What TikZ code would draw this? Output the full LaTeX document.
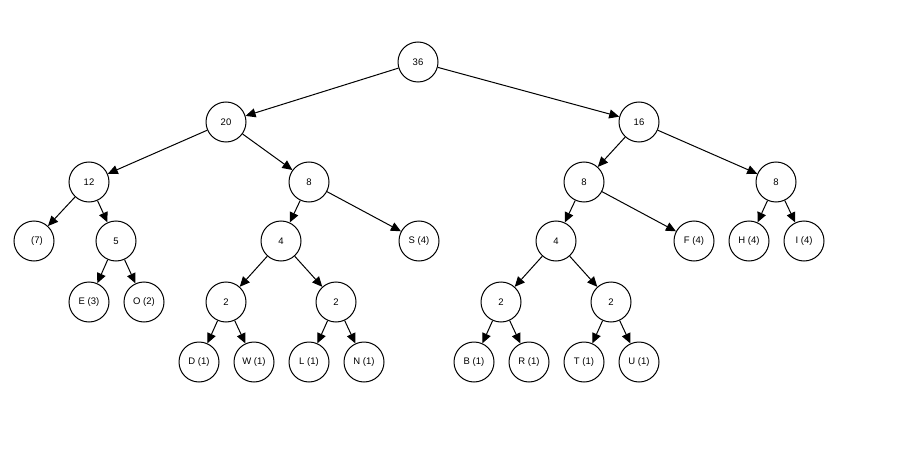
\documentclass[tikz,border=0pt]{standalone}
\usepackage{fontspec}
\setmainfont{Liberation Sans}
\usetikzlibrary{arrows.meta}
\begin{document}
\begin{tikzpicture}[x=1pt,y=-1pt,
  nd/.style={circle,draw,line width=1pt,minimum size=40pt,inner sep=0pt,font=\fontsize{9.5}{10}\selectfont},
  ed/.style={line width=1pt,-{Triangle[length=10pt,width=9pt]}}]
\useasboundingbox (0,0) rectangle (901,449);
\node[nd] (r) at (418,62) {36};
\node[nd] (a) at (226,122) {20};
\node[nd] (b) at (639,122) {16};
\node[nd] (a1) at (89,182) {12};
\node[nd] (a2) at (309,182) {8};
\node[nd] (b1) at (584,182) {8};
\node[nd] (b2) at (776,182) {8};
\node[nd] (n7) at (34,241) {\hspace{6pt}(7)};
\node[nd] (a12) at (116,241) {5};
\node[nd] (a21) at (281,241) {4};
\node[nd] (s) at (419,241) {S (4)};
\node[nd] (b11) at (556,241) {4};
\node[nd] (f) at (694,241) {F (4)};
\node[nd] (h) at (749,241) {H (4)};
\node[nd] (i) at (804,241) {I (4)};
\node[nd] (e) at (89,302) {E (3)};
\node[nd] (o) at (144,302) {O (2)};
\node[nd] (c1) at (226,302) {2};
\node[nd] (c2) at (336,302) {2};
\node[nd] (c3) at (501,302) {2};
\node[nd] (c4) at (611,302) {2};
\node[nd] (d) at (199,362) {D (1)};
\node[nd] (w) at (254,362) {W (1)};
\node[nd] (l) at (309,362) {L (1)};
\node[nd] (n) at (364,362) {N (1)};
\node[nd] (bb) at (474,362) {B (1)};
\node[nd] (rr) at (529,362) {R (1)};
\node[nd] (t) at (584,362) {T (1)};
\node[nd] (u) at (639,362) {U (1)};
\foreach \p/\c in {r/a,r/b,a/a1,a/a2,b/b1,b/b2,a1/n7,a1/a12,a2/a21,a2/s,b1/b11,b1/f,b2/h,b2/i,a12/e,a12/o,a21/c1,a21/c2,b11/c3,b11/c4,c1/d,c1/w,c2/l,c2/n,c3/bb,c3/rr,c4/t,c4/u}
  \draw[ed] (\p) -- (\c);
\end{tikzpicture}
\end{document}
